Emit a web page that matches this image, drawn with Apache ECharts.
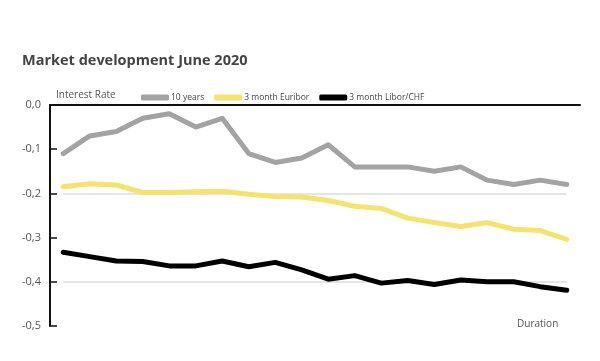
<!DOCTYPE html>
<html><head><meta charset="utf-8">
<script src="https://cdn.jsdelivr.net/npm/echarts@6/dist/echarts.min.js"></script>
<style>html,body{margin:0;padding:0;background:#fff}#c{width:600px;height:361px}</style>
</head><body><div id="c"></div>
<script>
var categories = ['1','2','3','4','5','6','7','8','9','10','11','12','13','14','15','16','17','18','19','20'];
var tenYears = [-0.11,-0.07,-0.06,-0.03,-0.02,-0.05,-0.03,-0.11,-0.13,-0.12,-0.09,-0.14,-0.14,-0.14,-0.15,-0.14,-0.17,-0.18,-0.17,-0.18];
var euribor3m = [-0.185,-0.178,-0.181,-0.198,-0.198,-0.196,-0.195,-0.202,-0.207,-0.208,-0.216,-0.229,-0.234,-0.256,-0.266,-0.275,-0.266,-0.281,-0.284,-0.304];
var liborChf3m = [-0.333,-0.343,-0.353,-0.354,-0.364,-0.364,-0.353,-0.366,-0.356,-0.373,-0.394,-0.386,-0.403,-0.397,-0.406,-0.396,-0.400,-0.400,-0.411,-0.419];
var yTicks = [0, -0.1, -0.2, -0.3, -0.4, -0.5];
var gridValues = [-0.2, -0.4];

var chart = echarts.init(document.getElementById('c'));
var font = '"Open Sans", "Noto Sans", sans-serif';
function mkSeries(name, data, color, withGrid) {
  var s = {
    name: name, type: 'line', data: data, symbol: 'none', smooth: false,
    lineStyle: { color: color, width: 5, cap: 'round', join: 'round' },
    itemStyle: { color: color }, z: 3
  };
  if (withGrid) {
    s.markLine = {
      silent: true, symbol: 'none', label: { show: false }, z: 1,
      lineStyle: { color: '#dcdcdc', width: 1.5, type: 'solid' },
      data: gridValues.map(function (v) { return [{ coord: [0.45, v] }, { coord: [18.85, v] }]; })
    };
  }
  return s;
}
chart.setOption({
  animation: false,
  title: [
    { text: 'Market development June 2020', left: 17, top: 48, textStyle: { fontFamily: font, fontSize: 14.5, fontWeight: 'bold', color: '#444' } },
    { text: 'Interest Rate', left: 51, top: 85, textStyle: { fontFamily: font, fontSize: 10, fontWeight: 'normal', color: '#555' } },
    { text: 'Duration', left: 512, top: 314, textStyle: { fontFamily: font, fontSize: 10, fontWeight: 'normal', color: '#555' } }
  ],
  legend: {
    left: 136, top: 88, itemWidth: 28, itemHeight: 6, itemGap: 10, icon: 'roundRect',
    textStyle: { fontFamily: font, fontSize: 8.5, color: '#444', padding: [0, 0, 0, -3] },
    data: ['10 years', '3 month Euribor', '3 month Libor/CHF']
  },
  grid: { left: 50, right: 20, top: 105, bottom: 35 },
  xAxis: {
    type: 'category', data: categories, position: 'top', boundaryGap: true,
    axisLine: { lineStyle: { color: '#111', width: 2 } },
    axisTick: { inside: true, length: 5, lineStyle: { color: '#111', width: 1.5 } },
    axisLabel: { show: false }, splitLine: { show: false }
  },
  yAxis: {
    type: 'value', min: -0.5, max: 0, interval: 0.1,
    axisLine: { show: true, lineStyle: { color: '#111', width: 2 } },
    axisTick: { show: true, inside: true, length: 7, lineStyle: { color: '#111', width: 1.5 } },
    axisLabel: { fontFamily: font, fontSize: 11, color: '#555', margin: 9,
      formatter: function (v) { return (Math.round(v * 10) / 10).toFixed(1).replace('.', ','); } },
    splitLine: { show: false }
  },
  series: [
    mkSeries('10 years', tenYears, '#a3a3a3', true),
    mkSeries('3 month Euribor', euribor3m, '#f6e36f', false),
    mkSeries('3 month Libor/CHF', liborChf3m, '#000000', false)
  ]
});
</script></body></html>
